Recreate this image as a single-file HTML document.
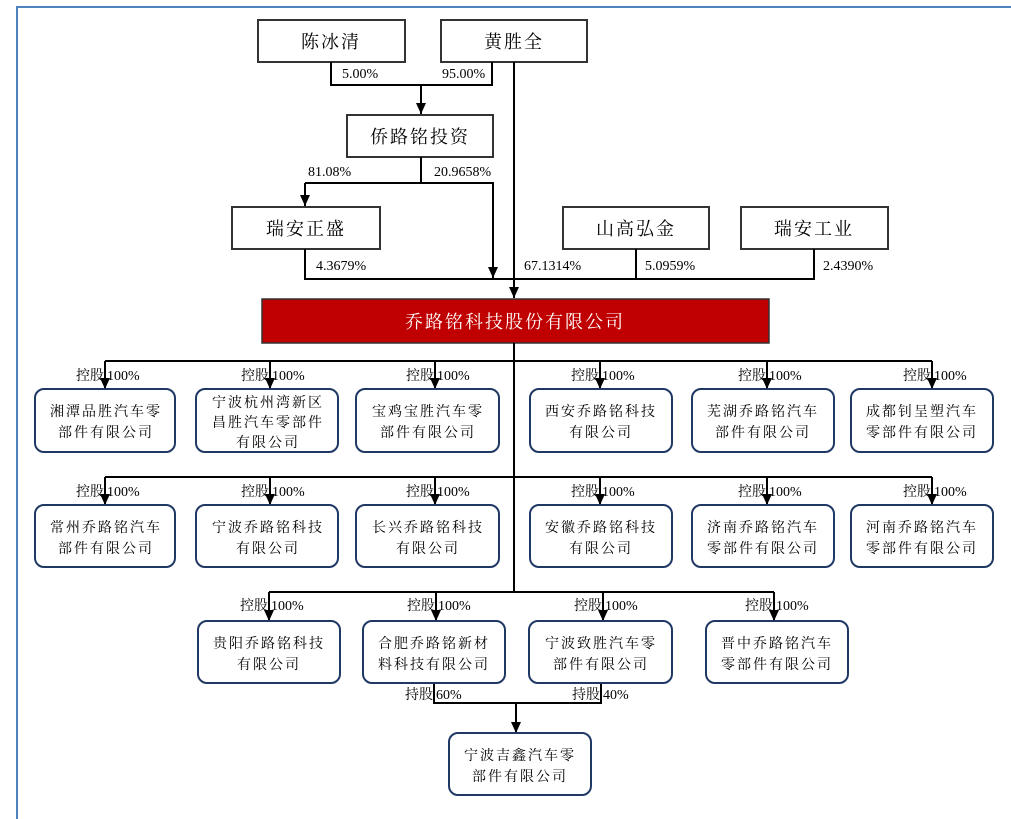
<!DOCTYPE html>
<html><head><meta charset="utf-8"><style>
html,body{margin:0;padding:0;background:#fff;}
svg{display:block;}
text{font-family:"Liberation Serif","Noto Serif CJK SC",serif;fill:#000;}
.big{font-size:18px;letter-spacing:2px;}
.lab{font-size:14px;}
.cn{font-size:14px;letter-spacing:2px;}
</style></head><body>
<svg width="1011" height="819" viewBox="0 0 1011 819" xmlns="http://www.w3.org/2000/svg">
<defs>
<marker id="a" markerWidth="10" markerHeight="11" refX="5" refY="11" orient="0" markerUnits="userSpaceOnUse" viewBox="0 0 10 11">
<path d="M0,0 L10,0 L5,11 Z" fill="#000"/>
</marker>
</defs>
<path d="M17,819 L17,7 L1011,7" fill="none" stroke="#4f81bd" stroke-width="2"/>

<g fill="#fff" stroke="#333" stroke-width="2">
<rect x="258" y="20" width="147" height="42"/>
<rect x="441" y="20" width="146" height="42"/>
<rect x="347" y="115" width="146" height="42"/>
<rect x="232" y="207" width="148" height="42"/>
<rect x="563" y="207" width="146" height="42"/>
<rect x="741" y="207" width="147" height="42"/>
</g>
<rect x="262" y="299" width="507" height="44" fill="#c00000" stroke="#333" stroke-width="1.5"/>

<g>
<text class="big" x="331" y="48" text-anchor="middle">陈冰清</text>
<text class="big" x="514" y="48" text-anchor="middle">黄胜全</text>
<text class="big" x="420" y="143" text-anchor="middle">侨路铭投资</text>
<text class="big" x="306" y="235" text-anchor="middle">瑞安正盛</text>
<text class="big" x="636" y="235" text-anchor="middle">山高弘金</text>
<text class="big" x="814" y="235" text-anchor="middle">瑞安工业</text>
<text class="big" x="515" y="328" text-anchor="middle" style="fill:#fff">乔路铭科技股份有限公司</text>
</g>

<g fill="none" stroke="#000" stroke-width="2">
<path d="M331,62 V85 H492 V62"/>
<path d="M421,85 V114" marker-end="url(#a)"/>
<path d="M514,62 V298" marker-end="url(#a)"/>
<path d="M421,157 V183 H493 V278" marker-end="url(#a)"/>
<path d="M305,183 H421"/>
<path d="M305,183 V206" marker-end="url(#a)"/>
<path d="M305,249 V279 H814 V249 M636,249 V279"/>
<path d="M514,343 V592"/>
<path d="M105,361 H932 M105,477 H932 M269,592 H774"/>
<g marker-end="url(#a)">
<path d="M105,361 V389"/><path d="M270,361 V389"/><path d="M435,361 V389"/>
<path d="M600,361 V389"/><path d="M767,361 V389"/><path d="M932,361 V389"/>
<path d="M105,477 V505"/><path d="M270,477 V505"/><path d="M435,477 V505"/>
<path d="M600,477 V505"/><path d="M767,477 V505"/><path d="M932,477 V505"/>
<path d="M269,592 V621"/><path d="M436,592 V621"/><path d="M603,592 V621"/><path d="M774,592 V621"/>
<path d="M516,703 V733"/>
</g>
<path d="M434,683 V703 H601 V683"/>
</g>

<g class="lab">
<text x="342" y="78">5.00%</text>
<text x="442" y="78">95.00%</text>
<text x="308" y="176">81.08%</text>
<text x="434" y="176">20.9658%</text>
<text x="316" y="270">4.3679%</text>
<text x="524" y="270">67.1314%</text>
<text x="645" y="270">5.0959%</text>
<text x="823" y="270">2.4390%</text>
</g>

<g class="lab">
<text x="104" y="380" text-anchor="end">控股</text><text x="107" y="380">100%</text>
<text x="269" y="380" text-anchor="end">控股</text><text x="272" y="380">100%</text>
<text x="434" y="380" text-anchor="end">控股</text><text x="437" y="380">100%</text>
<text x="599" y="380" text-anchor="end">控股</text><text x="602" y="380">100%</text>
<text x="766" y="380" text-anchor="end">控股</text><text x="769" y="380">100%</text>
<text x="931" y="380" text-anchor="end">控股</text><text x="934" y="380">100%</text>
<text x="104" y="496" text-anchor="end">控股</text><text x="107" y="496">100%</text>
<text x="269" y="496" text-anchor="end">控股</text><text x="272" y="496">100%</text>
<text x="434" y="496" text-anchor="end">控股</text><text x="437" y="496">100%</text>
<text x="599" y="496" text-anchor="end">控股</text><text x="602" y="496">100%</text>
<text x="766" y="496" text-anchor="end">控股</text><text x="769" y="496">100%</text>
<text x="931" y="496" text-anchor="end">控股</text><text x="934" y="496">100%</text>
<text x="268" y="610" text-anchor="end">控股</text><text x="271" y="610">100%</text>
<text x="435" y="610" text-anchor="end">控股</text><text x="438" y="610">100%</text>
<text x="602" y="610" text-anchor="end">控股</text><text x="605" y="610">100%</text>
<text x="773" y="610" text-anchor="end">控股</text><text x="776" y="610">100%</text>
<text x="433" y="699" text-anchor="end">持股</text><text x="436" y="699">60%</text>
<text x="600" y="699" text-anchor="end">持股</text><text x="603" y="699">40%</text>
</g>

<g fill="#fff" stroke="#1f3864" stroke-width="2">
<rect x="35" y="389" width="140" height="63" rx="9"/>
<rect x="196" y="389" width="142" height="63" rx="9"/>
<rect x="356" y="389" width="143" height="63" rx="9"/>
<rect x="530" y="389" width="142" height="63" rx="9"/>
<rect x="692" y="389" width="142" height="63" rx="9"/>
<rect x="851" y="389" width="142" height="63" rx="9"/>
<rect x="35" y="505" width="140" height="62" rx="9"/>
<rect x="196" y="505" width="142" height="62" rx="9"/>
<rect x="356" y="505" width="143" height="62" rx="9"/>
<rect x="530" y="505" width="142" height="62" rx="9"/>
<rect x="692" y="505" width="142" height="62" rx="9"/>
<rect x="851" y="505" width="142" height="62" rx="9"/>
<rect x="198" y="621" width="142" height="62" rx="9"/>
<rect x="363" y="621" width="142" height="62" rx="9"/>
<rect x="529" y="621" width="143" height="62" rx="9"/>
<rect x="706" y="621" width="142" height="62" rx="9"/>
<rect x="449" y="733" width="142" height="62" rx="9"/>
</g>

<g class="cn" text-anchor="middle">
<text x="106" y="416">湘潭品胜汽车零</text><text x="106" y="437">部件有限公司</text>
<text x="268" y="407">宁波杭州湾新区</text><text x="268" y="427">昌胜汽车零部件</text><text x="268" y="447">有限公司</text>
<text x="428" y="416">宝鸡宝胜汽车零</text><text x="428" y="437">部件有限公司</text>
<text x="601" y="416">西安乔路铭科技</text><text x="601" y="437">有限公司</text>
<text x="763" y="416">芜湖乔路铭汽车</text><text x="763" y="437">部件有限公司</text>
<text x="922" y="416">成都钊呈塑汽车</text><text x="922" y="437">零部件有限公司</text>
<text x="106" y="532">常州乔路铭汽车</text><text x="106" y="553">部件有限公司</text>
<text x="268" y="532">宁波乔路铭科技</text><text x="268" y="553">有限公司</text>
<text x="428" y="532">长兴乔路铭科技</text><text x="428" y="553">有限公司</text>
<text x="601" y="532">安徽乔路铭科技</text><text x="601" y="553">有限公司</text>
<text x="763" y="532">济南乔路铭汽车</text><text x="763" y="553">零部件有限公司</text>
<text x="922" y="532">河南乔路铭汽车</text><text x="922" y="553">零部件有限公司</text>
<text x="269" y="648">贵阳乔路铭科技</text><text x="269" y="669">有限公司</text>
<text x="434" y="648">合肥乔路铭新材</text><text x="434" y="669">料科技有限公司</text>
<text x="601" y="648">宁波致胜汽车零</text><text x="601" y="669">部件有限公司</text>
<text x="777" y="648">晋中乔路铭汽车</text><text x="777" y="669">零部件有限公司</text>
<text x="520" y="760">宁波吉鑫汽车零</text><text x="520" y="781">部件有限公司</text>
</g>
</svg>
</body></html>
